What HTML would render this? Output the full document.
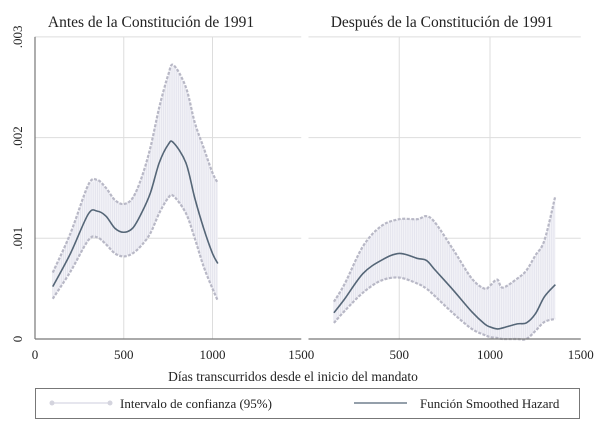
<!DOCTYPE html>
<html><head><meta charset="utf-8"><style>
html,body{margin:0;padding:0;background:#fff}
svg{display:block;font-family:"Liberation Serif",serif}
</style></head><body>
<svg id="chart" width="605" height="437" xmlns="http://www.w3.org/2000/svg">
<g id="grid"></g><g id="plots"></g><g id="axes"></g>
<text x="151" y="27" font-size="15.5" text-anchor="middle" fill="#222">Antes de la Constitución de 1991</text>
<text x="442" y="27" font-size="15.5" text-anchor="middle" fill="#222">Después de la Constitución de 1991</text>
<text x="293" y="381" font-size="13.5" text-anchor="middle" fill="#222">Días transcurridos desde el inicio del mandato</text>
<g>
<rect x="35.5" y="388.5" width="544" height="30" fill="#fff" stroke="#777" stroke-width="1"/>
<g>
<line x1="52" y1="403" x2="110" y2="403" stroke="#ccd" stroke-width="1"/>
<circle cx="52" cy="403" r="2.5" fill="#d4d4de"/><circle cx="110" cy="403" r="2.5" fill="#d4d4de"/>
<text x="120" y="408" font-size="13" fill="#222">Intervalo de confianza (95%)</text></g>
<g>
<line x1="354" y1="403" x2="407" y2="403" stroke="#556677" stroke-width="1.2"/>
<text x="420" y="408" font-size="13" fill="#222">Función Smoothed Hazard</text></g>
</g>
</svg>
<script>
const yTicks=[0,0.001,0.002,0.003];
const yTickLabels=["0",".001",".002",".003"];
const xTicksLeft=[0,500,1000,1500];
const xTicksRight=[500,1000,1500];
const leftX=[100,200,300,350,400,450,500,550,600,650,700,750,780,850,900,950,1000,1030];
const leftHazard=[0.00052,0.00085,0.00124,0.00127,0.00122,0.00110,0.00106,0.00110,0.00125,0.00145,0.00175,0.00193,0.00195,0.00175,0.00140,0.00110,0.00085,0.00075];
const leftUpper=[0.00066,0.00105,0.00153,0.00158,0.00150,0.00138,0.00134,0.00140,0.00160,0.00190,0.00230,0.00262,0.00272,0.00250,0.00215,0.00190,0.00165,0.00155];
const leftLower=[0.00040,0.00067,0.00098,0.00101,0.00094,0.00085,0.00082,0.00085,0.00093,0.00105,0.00125,0.00140,0.00142,0.00125,0.00100,0.00072,0.00050,0.00038];
const rightX=[140,200,300,400,500,600,650,700,800,900,970,1000,1040,1070,1150,1200,1250,1300,1360];
const rightHazard=[0.00026,0.00040,0.00065,0.00078,0.00085,0.00080,0.00078,0.00068,0.00048,0.00027,0.00015,0.00012,0.00010,0.00011,0.00015,0.00016,0.00025,0.00042,0.00054];
const rightUpper=[0.00037,0.00055,0.00092,0.00112,0.00119,0.00119,0.00122,0.00115,0.00088,0.00060,0.00050,0.00053,0.00059,0.00051,0.00060,0.00068,0.00083,0.00098,0.00142];
const rightLower=[0.00016,0.00028,0.00046,0.00058,0.00061,0.00055,0.00050,0.00042,0.00025,0.00010,0.00004,0.00002,0.00001,0.00000,0.00000,0.00000,0.00008,0.00017,0.00020];

const NS="http://www.w3.org/2000/svg";
const Y0=339,YPX=100.7;
const yS=v=>Y0-v*YPX*1000;
const panels=[
 {x0:35,k:0.1775,xs:leftX,h:leftHazard,u:leftUpper,l:leftLower,ticks:xTicksLeft,name:'left'},
 {x0:308.5,k:0.1815,xs:rightX,h:rightHazard,u:rightUpper,l:rightLower,ticks:xTicksRight,name:'right'}
];
function el(tag,attrs,parent){const e=document.createElementNS(NS,tag);for(const a in attrs)e.setAttribute(a,attrs[a]);parent.appendChild(e);return e;}
function smooth(pts){let d='M'+pts[0][0]+','+pts[0][1];for(let i=0;i<pts.length-1;i++){const p0=pts[i-1]||pts[i],p1=pts[i],p2=pts[i+1],p3=pts[i+2]||p2;const c1=[p1[0]+(p2[0]-p0[0])/6,p1[1]+(p2[1]-p0[1])/6],c2=[p2[0]-(p3[0]-p1[0])/6,p2[1]-(p3[1]-p1[1])/6];d+=' C'+c1[0]+','+c1[1]+' '+c2[0]+','+c2[1]+' '+p2[0]+','+p2[1];}return d;}
const grid=document.getElementById('grid'),plots=document.getElementById('plots'),axes=document.getElementById('axes');
panels.forEach(p=>{
 const xS=v=>p.x0+v*p.k;
 const right=xS(1500);
 yTicks.forEach((t,i)=>{
  const g=el('line',{x1:p.x0,x2:right,y1:yS(t),y2:yS(t),stroke:'#ddd','stroke-width':1},grid);
  
  
 });
 p.ticks.forEach(t=>{
  if(t>0&&t<1500){const g=el('line',{x1:xS(t),x2:xS(t),y1:yS(0.003),y2:Y0,stroke:'#ddd','stroke-width':1},grid);
  
  }
  const tx=el('text',{x:xS(t),y:Y0+20,'font-size':13,'text-anchor':'middle',fill:'#222'},axes);
  tx.textContent=t;
  
  
 });
 const ax=el('line',{x1:p.x0,x2:right,y1:Y0,y2:Y0,stroke:'#777','stroke-width':1.2},axes);
 
 
 const up=p.xs.map((x,i)=>[xS(x),yS(p.u[i])]),lo=p.xs.map((x,i)=>[xS(x),yS(p.l[i])]);
 const lor=lo.slice().reverse();
 const band=el('path',{d:smooth(up)+' L'+smooth(lor).slice(1)+' Z',fill:'#f2f2f7',stroke:'none'},plots);
 
 
 for(let x=p.xs[0];x<=p.xs[p.xs.length-1];x+=12){
  let i=0;while(i<p.xs.length-2&&p.xs[i+1]<x)i++;
  const f=(x-p.xs[i])/(p.xs[i+1]-p.xs[i]);
  const uu=p.u[i]+(p.u[i+1]-p.u[i])*f,ll=p.l[i]+(p.l[i+1]-p.l[i])*f;
  el('line',{x1:xS(x),x2:xS(x),y1:yS(uu),y2:yS(ll),stroke:'#e2e2ec','stroke-width':0.8},plots);
 }
 ['u','l'].forEach(k=>{
  const pts=k==='u'?up:lo;
  const e=el('path',{d:smooth(pts),fill:'none',stroke:'#b8b8c6','stroke-width':2.2,'stroke-dasharray':'3 1.5'},plots);
  
  
 });
 const hz=el('path',{d:smooth(p.xs.map((x,i)=>[xS(x),yS(p.h[i])])),fill:'none',stroke:'#556677','stroke-width':1.6},plots);
 
 
});
const ya=el('line',{x1:35,x2:35,y1:yS(0.003),y2:Y0,stroke:'#777','stroke-width':1.2},axes);


yTicks.forEach((t,i)=>{
 const tx=el('text',{x:0,y:0,'font-size':13,'text-anchor':'middle',fill:'#222',transform:'translate(22,'+yS(t)+') rotate(-90)'},axes);
 tx.textContent=yTickLabels[i];
 
 
});
</script>
</body></html>
